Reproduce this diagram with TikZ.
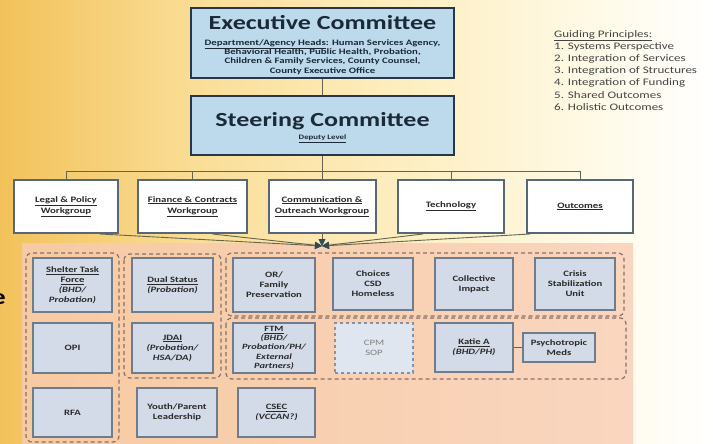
\documentclass[tikz,border=0pt]{standalone}
\usepackage{fontspec}
\setmainfont{Carlito}[FakeStretch=1.3]
\usetikzlibrary{arrows.meta,shadows}

\definecolor{bgA}{HTML}{F2C25A}
\definecolor{bgB}{HTML}{FADE98}
\definecolor{bgC}{HTML}{FEF2CC}
\definecolor{bgD}{HTML}{FFFCF0}
\definecolor{peachL}{HTML}{F6CAA2}
\definecolor{peachR}{HTML}{FAD6C0}
\definecolor{execfill}{HTML}{BDDAEC}
\definecolor{execline}{HTML}{26374A}
\definecolor{wgline}{HTML}{56677A}
\definecolor{lowfill}{HTML}{D3DBE8}
\definecolor{lowline}{HTML}{6E7D8E}
\definecolor{softline}{HTML}{7F93AC}
\definecolor{grpline}{HTML}{8C6F66}
\definecolor{connc}{HTML}{66644F}
\definecolor{arrowc}{HTML}{2E4A55}
\definecolor{inktext}{HTML}{2A2A2A}
\definecolor{titleink}{HTML}{1B2A38}
\definecolor{princink}{HTML}{444444}

\tikzset{
  topbox/.style={draw=execline, line width=2.5pt, fill=execfill},
  wgbox/.style={draw=wgline, line width=2pt, fill=white, align=center,
    text=inktext, font=\bfseries\fontsize{8.3}{11}\selectfont,
    drop shadow={opacity=0.3, shadow xshift=1.2pt, shadow yshift=-1.2pt}},
  lowbox/.style={draw=lowline, line width=2pt, fill=lowfill, align=center,
    text=inktext, font=\bfseries\fontsize{8.2}{10}\selectfont, inner sep=1pt,
    drop shadow={opacity=0.25, shadow xshift=1pt, shadow yshift=-1pt}},
  softbox/.style={draw=softline, line width=1.2pt, dashed, fill=lowfill!70!white,
    align=center, text=gray, font=\fontsize{8.2}{10}\selectfont},
  grp/.style={draw=grpline, line width=1.2pt, dash pattern=on 4pt off 3pt, rounded corners=6pt},
  conn/.style={draw=connc, line width=0.9pt},
  feed/.style={draw=connc, line width=0.9pt,
    -{Triangle[length=7pt, width=7pt, color=arrowc, fill=arrowc]}},
}

\begin{document}
\begin{tikzpicture}[x=1pt, y=-1pt]
\useasboundingbox (0,0) rectangle (713,444);
\clip (0,0) rectangle (713,444);

% background washes
\fill[left color=bgA, right color=bgB] (0,0) rectangle (200.5,444);
\fill[left color=bgB, right color=bgC] (200,0) rectangle (460.5,444);
\fill[left color=bgC, right color=bgD] (460,0) rectangle (640.5,444);
\fill[left color=bgD, right color=white] (640,0) rectangle (713,444);
\fill[left color=peachL, right color=peachR] (22,243) rectangle (633,444);

% stray heading letter at the left edge
\node[font=\bfseries\fontsize{22}{22}\selectfont, anchor=base east, inner sep=0pt] (edgee) at (6,304) {e};

% executive level
\node[topbox, minimum width=263, minimum height=70] (exec) at (322.5,43) {};
\node[font=\bfseries\fontsize{20}{22}\selectfont, text=titleink] (exectitle) at (322.5,23) {Executive Committee};
\node[font=\bfseries\fontsize{8.3}{9.4}\selectfont, text=titleink, align=center] (execsub) at (322.5,57)
  {\underline{Department/Agency Heads}: Human Services Agency,\\
   Behavioral Health, Public Health, Probation,\\
   Children \& Family Services, County Counsel,\\
   County Executive Office};

\node[topbox, minimum width=263, minimum height=59] (steer) at (322.5,125.5) {};
\node[font=\bfseries\fontsize{20}{22}\selectfont, text=titleink] (steertitle) at (322.5,121) {Steering Committee};
\node[font=\bfseries\fontsize{6.8}{8}\selectfont, text=titleink] (deputy) at (322.5,138.5) {\underline{Deputy Level}};

% guiding principles
\node[anchor=north west, align=left, text=princink, font=\fontsize{10}{12.2}\selectfont, inner sep=0pt] (principles) at (554,30)
  {\underline{Guiding Principles:}\\
   1. Systems Perspective\\
   2. Integration of Services\\
   3. Integration of Structures\\
   4. Integration of Funding\\
   5. Shared Outcomes\\
   6. Holistic Outcomes};

% workgroups
\node[wgbox, minimum width=104, minimum height=53] (legal) at (66,206.5) {\underline{Legal \& Policy}\\\underline{Workgroup}};
\node[wgbox, minimum width=109, minimum height=53] (finance) at (192.5,206.5) {\underline{Finance \& Contracts}\\\underline{Workgroup}};
\node[wgbox, minimum width=107, minimum height=53] (comm) at (322,206.5) {\underline{Communication \&}\\\underline{Outreach Workgroup}};
\node[wgbox, minimum width=106, minimum height=53] (tech) at (451,206.5) {\underline{Technology}};
\node[wgbox, minimum width=106, minimum height=53] (outc) at (580,206.5) {\underline{Outcomes}};

% reporting lines
\draw[conn] (exec.south) -- (steer.north);
\draw[conn] (steer.south) -- ++(0,15) coordinate (bus);
\draw[conn] (legal.north) -- (legal.north |- bus) -- (outc.north |- bus) -- (outc.north);
\draw[conn] (finance.north |- bus) -- (finance.north);
\draw[conn] (comm.north |- bus) -- (comm.north);
\draw[conn] (tech.north |- bus) -- (tech.north);

% feeds into the project area
\coordinate (hub) at (322,246);
\draw[feed] ([xshift=34pt]legal.south) -- (hub);
\draw[feed] ([xshift=20pt]finance.south) -- (hub);
\draw[feed] (comm.south) -- (hub);
\draw[feed] ([xshift=-28pt]tech.south) -- (hub);
\draw[feed] ([xshift=-50pt]outc.south) -- (hub);

% project groupings
\draw[grp] (26,253) rectangle (119,442);
\draw[grp] (124,254) rectangle (221,378);
\draw[grp] (226,253) rectangle (624,316);
\draw[grp] (226,318) rectangle (626,379);

% projects
\node[lowbox, minimum width=79, minimum height=54] (shelter) at (72.5,285)
  {\underline{Shelter Task}\\\underline{Force}\\{\itshape (BHD/}\\{\itshape Probation)}};
\node[lowbox, minimum width=79, minimum height=50] (opi) at (72.5,348) {OPI};
\node[lowbox, minimum width=79, minimum height=49] (rfa) at (72.5,412.5) {RFA};

\node[lowbox, minimum width=81, minimum height=54] (dual) at (172.5,285)
  {\underline{Dual Status}\\{\itshape (Probation)}};
\node[lowbox, minimum width=81, minimum height=50] (jdai) at (172.5,348)
  {\underline{JDAI}\\{\itshape (Probation/}\\{\itshape HSA/DA)}};
\node[lowbox, minimum width=80, minimum height=49] (youth) at (177,412.5)
  {Youth/Parent\\Leadership};

\node[lowbox, minimum width=82, minimum height=54] (orfam) at (274,285)
  {OR/\\Family\\Preservation};
\node[lowbox, minimum width=82, minimum height=50, font=\bfseries\fontsize{8}{9.2}\selectfont, inner sep=0pt] (ftm) at (274,348)
  {\underline{FTM}\\{\itshape (BHD/}\\{\itshape Probation/PH/}\\{\itshape External}\\{\itshape Partners)}};
\node[lowbox, minimum width=77, minimum height=49] (csec) at (276.5,412.5)
  {\underline{CSEC}\\{\itshape (VCCAN?)}};

\node[lowbox, minimum width=80, minimum height=52] (choices) at (373,284)
  {Choices\\CSD\\Homeless};
\node[softbox, minimum width=78, minimum height=50] (cpm) at (374,348) {CPM\\SOP};

\node[lowbox, minimum width=78, minimum height=52] (collect) at (474,284)
  {Collective\\Impact};
\node[lowbox, minimum width=78, minimum height=49] (katie) at (474,347.5)
  {\underline{Katie A}\\{\itshape (BHD/PH)}};

\node[lowbox, minimum width=80, minimum height=52] (crisis) at (575,284)
  {Crisis\\Stabilization\\Unit};
\node[lowbox, minimum width=72, minimum height=29] (psych) at (559,347.5)
  {Psychotropic\\Meds};

\draw[conn] (katie.east) -- (psych.west);
\end{tikzpicture}
\end{document}
